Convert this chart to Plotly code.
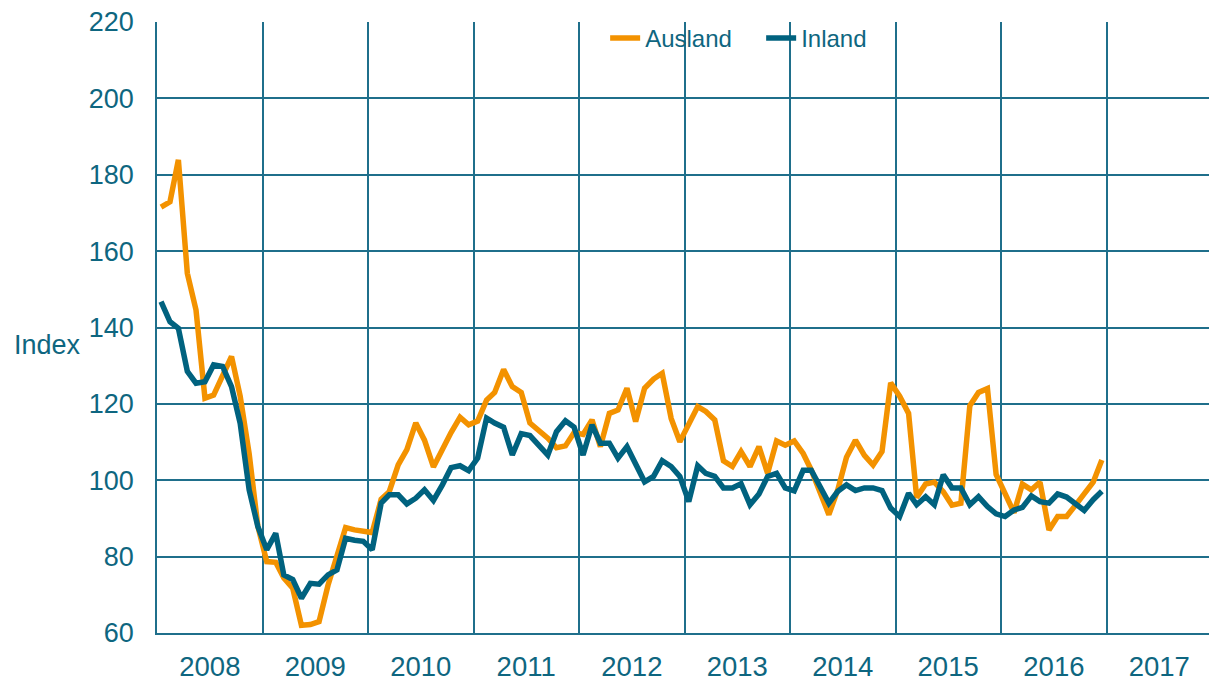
import pandas as pd
import plotly.graph_objects as go

years = list(range(2008, 2018))
year_labels = [str(y) for y in years]

ausland = [
    171.5, 172.9, 183.9, 154.2, 144.6, 121.5, 122.3, 127.0, 132.4, 122.0, 107.0, 88.0,
    78.7, 78.5, 74.4, 71.7, 62.0, 62.2, 63.0, 72.5, 80.0, 87.6, 87.0, 86.8,
    86.3, 95.0, 97.0, 104.0, 108.0, 115.0, 110.5, 103.5, 108.5, 112.5, 116.5, 114.5,
    115.5, 121.0, 123.0, 129.0, 124.5, 123.0, 115.0, 113.0, 111.0, 108.5, 109.0, 112.5,
    112.0, 115.8, 108.8, 117.5, 118.4, 124.1, 115.4, 124.1, 126.5, 128.0, 116.2, 110.1,
    114.9, 119.3, 118.0, 115.8, 105.1, 103.6, 107.5, 103.6, 108.8, 101.8, 110.3, 109.2,
    110.3, 107.0, 102.7, 96.5, 91.0, 97.5, 106.0, 110.5, 106.5, 104.0, 107.5, 125.5,
    122.0, 117.5, 95.5, 99.0, 99.5, 97.0, 93.5, 94.0, 119.5, 123.0, 124.0, 101.5,
    96.5, 91.5, 99.0, 97.5, 99.5, 87.0, 90.5, 90.5, 93.5, 96.5, 99.5, 105.3,
]

inland = [
    146.8, 141.5, 139.8, 128.5, 125.4, 125.8, 130.2, 129.8, 124.5, 114.9, 97.5, 87.9,
    81.8, 86.1, 75.2, 74.0, 69.1, 73.0, 72.8, 75.2, 76.5, 84.8, 84.3, 84.0,
    81.8, 94.0, 96.2, 96.2, 93.8, 95.3, 97.5, 94.7, 98.8, 103.3, 103.8, 102.5,
    105.8, 116.3, 115.0, 113.9, 106.6, 112.2, 111.7, 109.3, 106.6, 112.7, 115.6, 113.9,
    106.6, 114.5, 109.7, 109.7, 105.8, 108.8, 104.6, 99.6, 101.0, 105.1, 103.6, 101.0,
    94.4, 103.8, 101.8, 101.0, 98.0, 98.0, 99.1, 93.6, 96.4, 101.0, 101.8, 98.0,
    97.2, 102.6, 102.6, 98.3, 94.0, 97.1, 98.8, 97.3, 98.0, 98.0, 97.3, 92.7,
    90.5, 96.6, 93.6, 95.7, 93.6, 101.4, 98.0, 98.0, 93.6, 95.7, 93.1, 91.2,
    90.5, 92.2, 92.9, 95.9, 94.4, 94.0, 96.4, 95.6, 94.0, 92.1, 94.9, 97.1,
]

dates = pd.date_range("2008-01-01", periods=len(ausland), freq="MS") + pd.Timedelta(days=14)

ORANGE = "#F39200"
TEAL = "#00627F"
GRID = "#1F6F8B"
TEXT = "#0E6680"
FONT = "Liberation Sans, Arial, sans-serif"

fig = go.Figure()
fig.add_trace(go.Scatter(x=dates, y=ausland, name="Ausland", mode="lines",
                         line=dict(color=ORANGE, width=5.5)))
fig.add_trace(go.Scatter(x=dates, y=inland, name="Inland", mode="lines",
                         line=dict(color=TEAL, width=5.5)))

mid_year = [f"{y}-07-02" for y in years]
year_starts = [f"{y}-01-01" for y in years] + ["2018-01-01"]

fig.update_layout(
    width=1209, height=682,
    margin=dict(l=157, r=0, t=22, b=49),
    paper_bgcolor="white", plot_bgcolor="white",
    font=dict(family=FONT, color=TEXT, size=27),
    showlegend=True,
    legend=dict(orientation="h", x=0.426, xanchor="left", y=1.01, yanchor="top",
                font=dict(size=24, color=TEXT), bgcolor="rgba(0,0,0,0)",
                entrywidth=111, entrywidthmode="pixels",
                itemwidth=30, tracegroupgap=0),
    xaxis=dict(
        type="date", automargin=False,
        range=["2008-01-01", "2017-12-21"],
        tickmode="array", tickvals=mid_year, ticktext=year_labels,
        showgrid=False, ticks="", ticklabelstandoff=8,
        showline=True, linecolor=GRID, linewidth=1.5,
        tickfont=dict(size=27.5, color=TEXT),
        minor=dict(tickmode="array", tickvals=year_starts, showgrid=True,
                   gridcolor=GRID, gridwidth=1.5, ticks=""),
        zeroline=False,
    ),
    yaxis=dict(
        range=[60, 220], tickmode="linear", tick0=60, dtick=20, automargin=False,
        showgrid=True, gridcolor=GRID, gridwidth=1.5,
        ticks="", ticklabelstandoff=16,
        showline=True, linecolor=GRID, linewidth=1.5,
        tickfont=dict(size=27, color=TEXT),
        zeroline=False,
    ),
    annotations=[dict(text="Index", xref="paper", yref="paper",
                      x=-0.0705, y=(633 - 345) / 611, xanchor="right", yanchor="middle",
                      showarrow=False, font=dict(size=27, color=TEXT))],
)

fig.write_html("out.html",
               config={"displayModeBar": False},
               post_script="document.body.style.margin='0';document.body.style.padding='0';")
